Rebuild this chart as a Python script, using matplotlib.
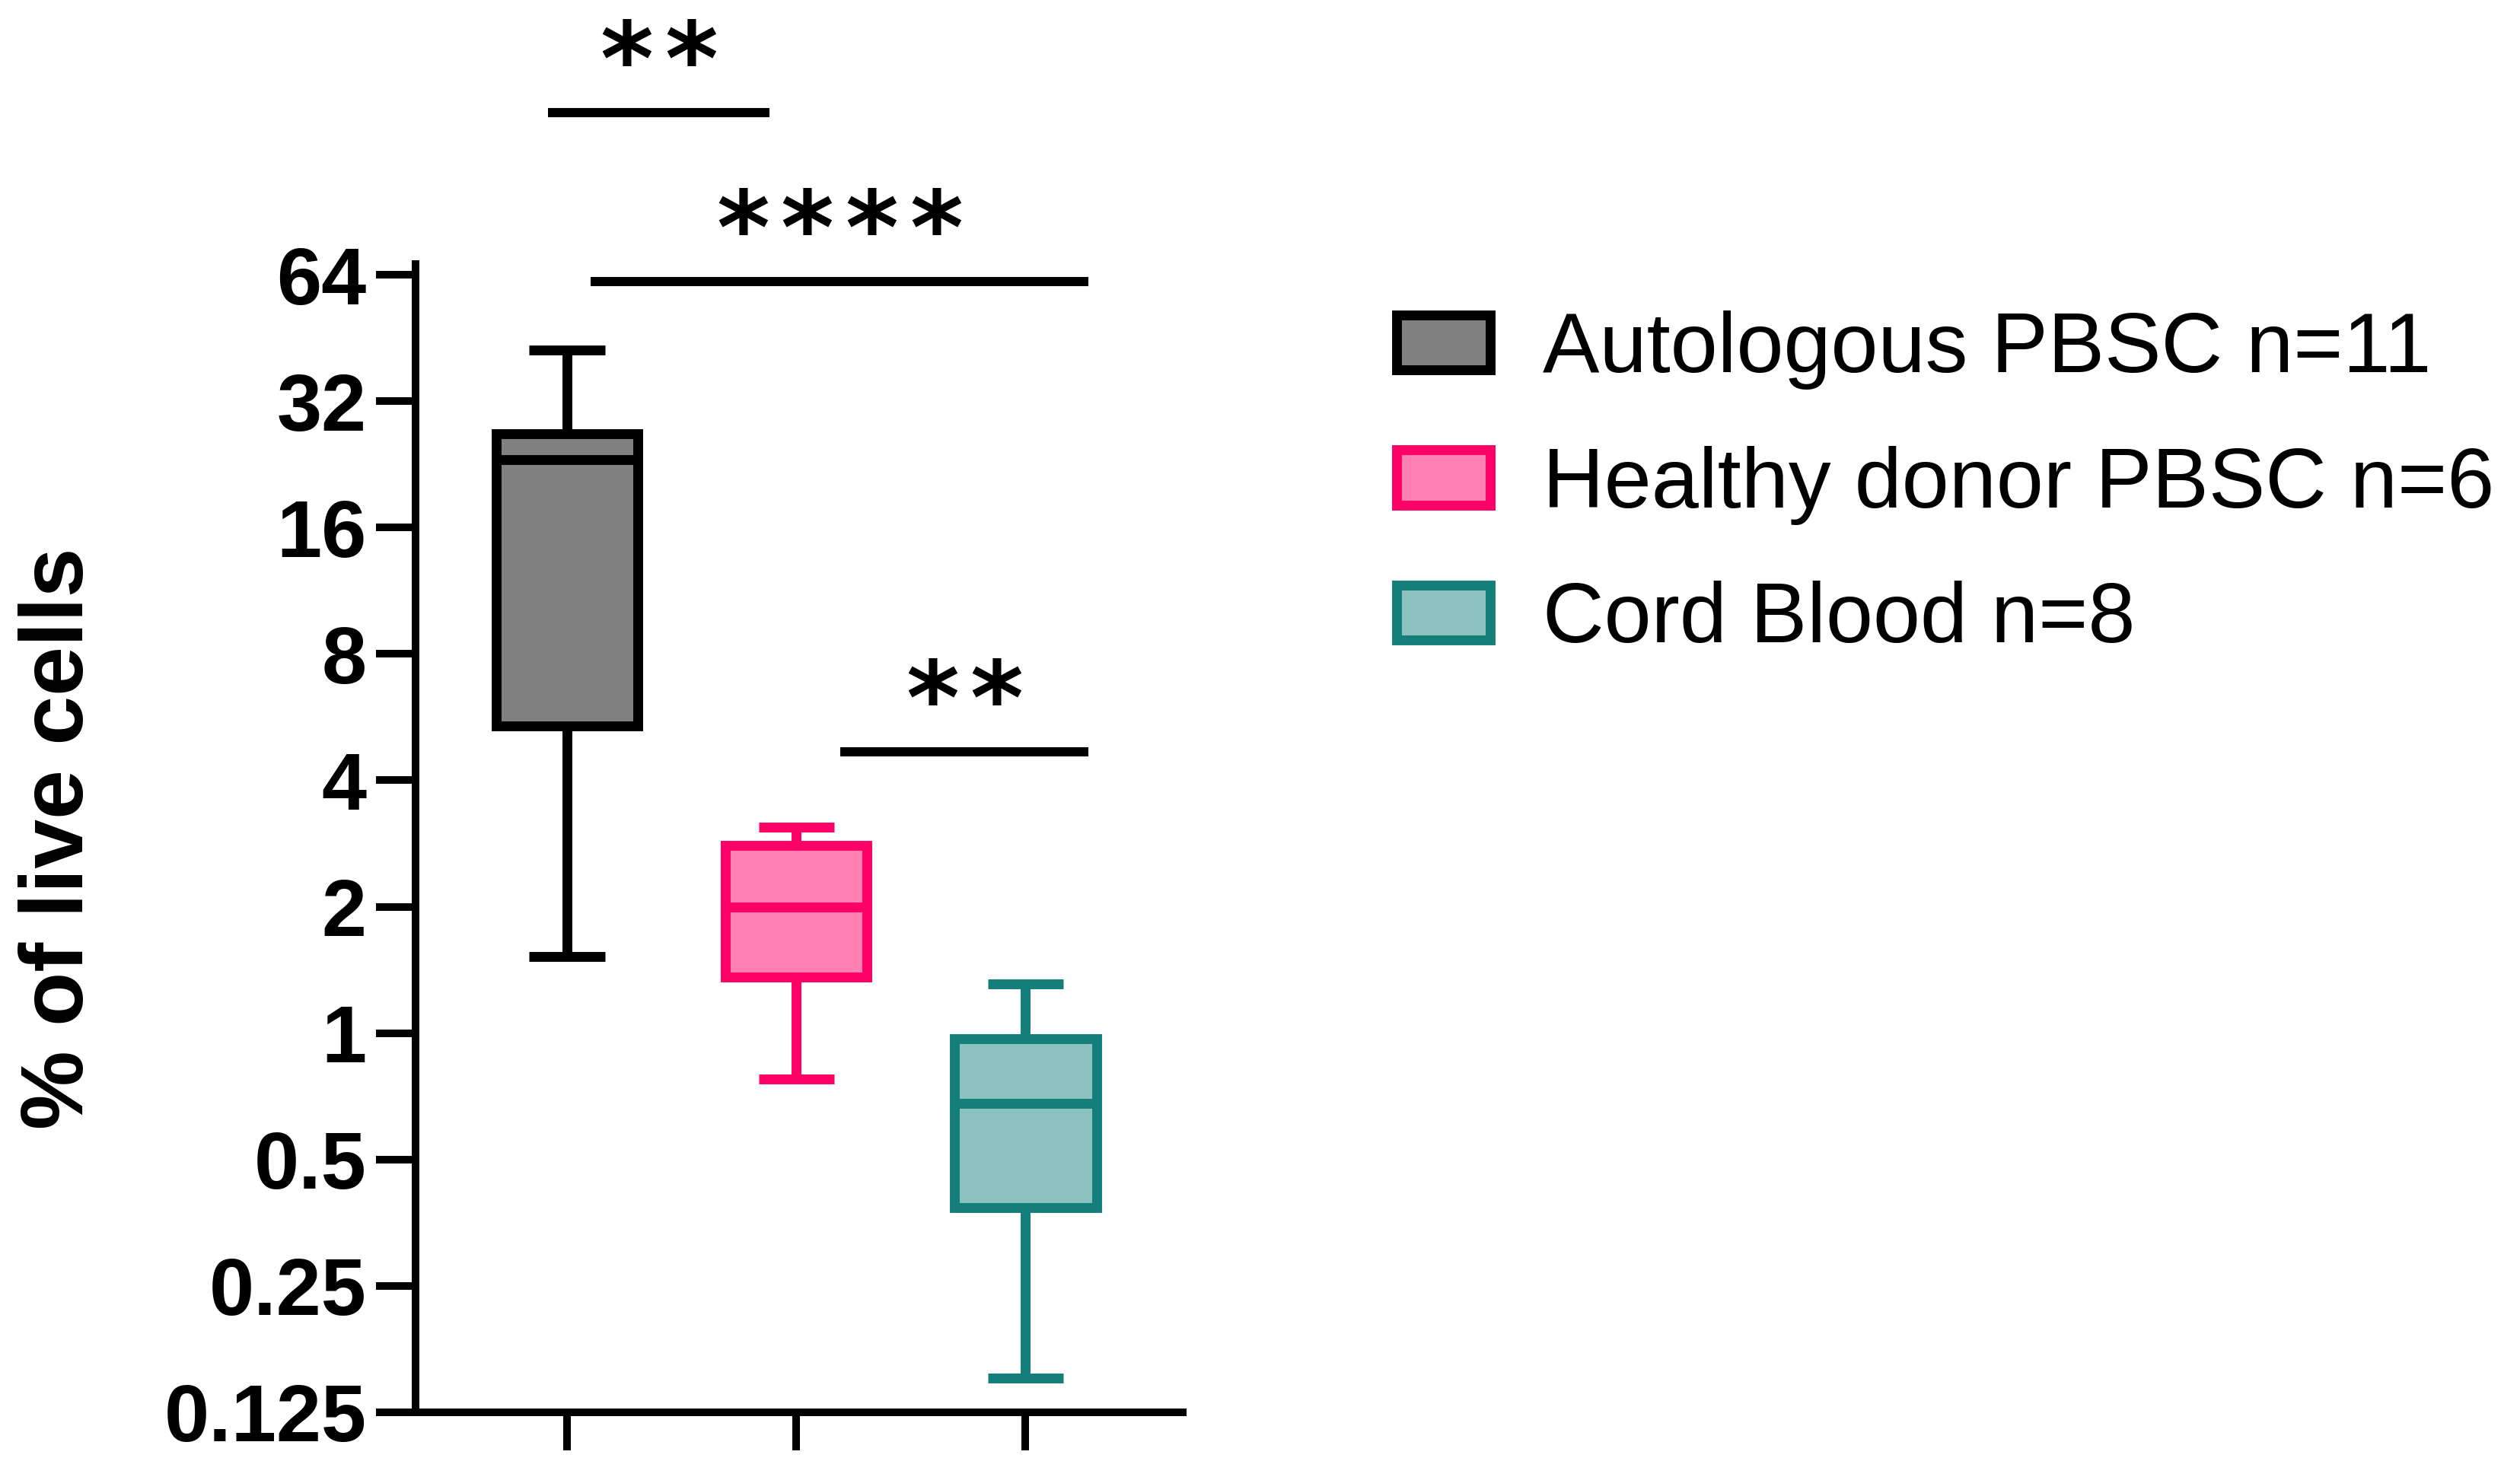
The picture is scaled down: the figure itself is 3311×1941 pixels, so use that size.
import matplotlib
matplotlib.use('Agg')
import matplotlib.pyplot as plt
from matplotlib.patches import Patch

# data (log2 scale, % of live cells)
groups = ['Autologous PBSC n=11', 'Healthy donor PBSC n=6', 'Cord Blood n=8']
whis_hi = [42.3, 3.09, 1.31]
q3 = [26.8, 2.80, 0.97]
medians = [23.2, 2.0, 0.68]
q1 = [5.39, 1.36, 0.384]
whis_lo = [1.52, 0.778, 0.151]

fills = ['#808080', '#FF80B1', '#8BC1BF']
edges = ['#000000', '#FF0066', '#137E7A']

yticks = [0.125, 0.25, 0.5, 1, 2, 4, 8, 16, 32, 64]
ytick_labels = ['0.125', '0.25', '0.5', '1', '2', '4', '8', '16', '32', '64']

# significance bars: (x start, x end, y, label)
sig_bars = [(-0.083, 0.883, 156, '**'),
            (0.103, 2.274, 61.6, '****'),
            (1.193, 2.276, 4.68, '**')]

fig = plt.figure(figsize=(11.04, 6.47), dpi=300)
ax = fig.add_axes([0.1649, 0.0438, 0.3044, 0.7774])

stats = []
for i in range(len(groups)):
    stats.append(dict(med=medians[i], q1=q1[i], q3=q3[i],
                      whislo=whis_lo[i], whishi=whis_hi[i], fliers=[]))

bp = ax.bxp(stats, positions=range(len(groups)), widths=0.62, capwidths=0.33,
            patch_artist=True, showfliers=False)
lw = 3.1
for i in range(len(groups)):
    bp['boxes'][i].set(facecolor=fills[i], edgecolor=edges[i], linewidth=lw,
                       joinstyle='miter')
    bp['medians'][i].set(color=edges[i], linewidth=lw, solid_capstyle='butt')
    for w in bp['whiskers'][2 * i:2 * i + 2]:
        w.set(color=edges[i], linewidth=lw, solid_capstyle='butt')
    for c in bp['caps'][2 * i:2 * i + 2]:
        c.set(color=edges[i], linewidth=lw, solid_capstyle='butt')

ax.set_yscale('log', base=2)
ax.set_ylim(0.125, 67.85)
ax.set_xlim(-0.661, 2.688)
ax.set_yticks(yticks)
ax.set_yticklabels(ytick_labels)
ax.minorticks_off()
ax.set_xticks(range(len(groups)))
ax.set_xticklabels([])

for s in ['top', 'right']:
    ax.spines[s].set_visible(False)
for s in ['left', 'bottom']:
    ax.spines[s].set_linewidth(2.4)
ax.tick_params(axis='y', length=12.5, width=2.4, pad=3)
ax.tick_params(axis='x', length=12, width=2.4)
for lab in ax.get_yticklabels():
    lab.set_fontfamily('Liberation Sans')
    lab.set_fontweight('bold')
    lab.set_fontsize(25.5)

ax.set_ylabel('% of live cells', fontsize=28, fontweight='bold', family='Liberation Sans')
ax.yaxis.set_label_coords(-0.41, 0.5)

# asterisks drawn one by one so their spacing matches the reference
star_pitch = 20.3  # points
for x1, x2, y, lab in sig_bars:
    ax.plot([x1, x2], [y, y], color='black', linewidth=2.9, clip_on=False,
            solid_capstyle='butt')
    n = len(lab)
    for k in range(n):
        ax.annotate('*', xy=((x1 + x2) / 2, y),
                    xytext=((k - (n - 1) / 2) * star_pitch, 14.6),
                    textcoords='offset points', ha='center', va='center',
                    fontsize=32, fontweight='bold', family='DejaVu Sans',
                    annotation_clip=False)

handles = [Patch(facecolor=fills[i], edgecolor=edges[i], linewidth=lw,
                 joinstyle='miter', label=groups[i]) for i in range(len(groups))]
fig.legend(handles=handles, loc='upper left', bbox_to_anchor=(0.554, 0.7898),
           frameon=False, prop={'family': 'Liberation Sans', 'size': 26.8},
           handlelength=1.1, handleheight=0.62, handletextpad=0.62,
           labelspacing=0.66, borderpad=0, borderaxespad=0)

fig.savefig('out.png', dpi=300)
